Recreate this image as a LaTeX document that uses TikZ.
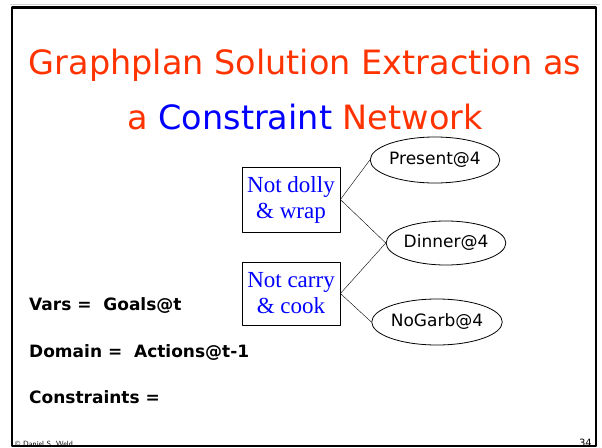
\documentclass[tikz,border=0pt]{standalone}
\usepackage[svgnames]{xcolor}
\usepackage{fontspec}
\setmainfont{Liberation Serif}
\newfontfamily\comicfont{DejaVu Sans}
\usepackage{tikz}
\usetikzlibrary{positioning}
\usetikzlibrary{shapes.geometric}
\definecolor{titlered}{RGB}{255,51,0}
\definecolor{keyblue}{RGB}{0,0,255}

\begin{document}
\begin{tikzpicture}[x=1pt,y=-1pt,line cap=round,line join=round,
  goal/.style={draw,ellipse,inner sep=0pt,line width=0.8pt,font=\comicfont\fontsize{17}{19}\selectfont},
  mutexbox/.style={draw,rectangle,inner sep=0pt,line width=0.8pt,align=center,minimum width=98pt,text=keyblue,font=\fontsize{23}{26}\selectfont},
  slidetext/.style={anchor=base west,inner sep=0pt,font=\comicfont\bfseries\fontsize{17}{19}\selectfont},
  titletext/.style={anchor=base,text=titlered,font=\comicfont\fontsize{33.5}{36}\selectfont}]
\useasboundingbox (0,0) rectangle (602,447);
\draw [color=LightGray,line width=1pt] (10,4.5) -- (599,4.5);
\draw [line width=2.5pt,line cap=butt] (12,7.5) rectangle (596,446);
% title
\node (title1) at (305,74) [titletext] {Graphplan Solution Extraction as};
\node (title2) at (305,129) [titletext] {a \textcolor{keyblue}{Constraint} Network};
% constraint network
\node (dollywrap) at (291,199.5) [mutexbox,minimum height=65pt] {Not dolly\\\& wrap};
\node (carrycook) at (291,293.5) [mutexbox,minimum height=63pt] {Not carry\\\& cook};
\node (present) at (435,160) [goal,minimum width=96pt,minimum height=46pt] {Present@4};
\node (dinner) at (446,243) [goal,minimum width=114pt,minimum height=44pt] {Dinner@4};
\node (nogarb) at (437,322) [goal,minimum width=96pt,minimum height=46pt] {NoGarb@4};
\draw (dollywrap.east) -- (present.west);
\draw (dollywrap.east) -- (dinner.west);
\draw (carrycook.east) -- (dinner.west);
\draw (carrycook.east) -- (nogarb.west);
% csp terms
\node (vars) at (29,310) [slidetext] {Vars =\ \ Goals@t};
\node (domain) at (29,357) [slidetext] {Domain =\ \ Actions@t-1};
\node (constraints) at (29,403) [slidetext] {Constraints =};
% footer
\node (author) at (15,446) [anchor=base west,inner sep=0pt,font=\fontsize{7.5}{8}\selectfont\sffamily] {\textcopyright\ Daniel S. Weld};
\node (pagenum) at (592,446) [anchor=base east,inner sep=0pt,font=\comicfont\fontsize{10}{11}\selectfont] {34};
\end{tikzpicture}
\end{document}
